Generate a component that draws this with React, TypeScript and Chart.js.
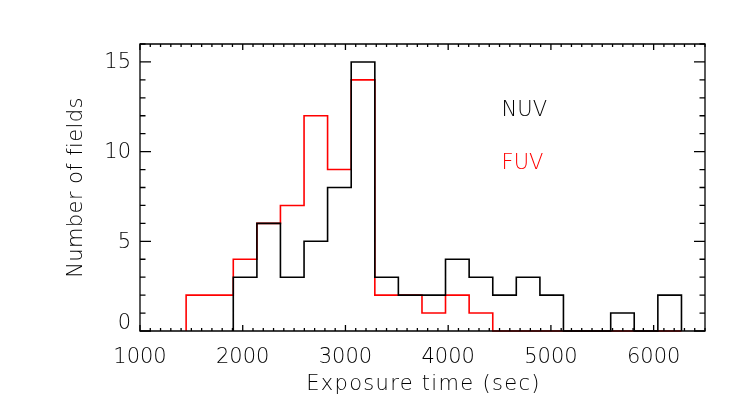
import React, { useEffect, useRef } from "react";
import { Chart, registerables } from "chart.js";

Chart.register(...registerables);

// Histogram bin edges (seconds) and counts per bin
const binEdges = [1449, 1678, 1908, 2138, 2367, 2597, 2826, 3056, 3286, 3515, 3745, 3974, 4204, 4434, 4663, 4893, 5122, 5352, 5582, 5811, 6041, 6271];
const nuvCounts = [0, 0, 3, 6, 3, 5, 8, 15, 3, 2, 2, 4, 3, 2, 3, 2, 0, 0, 1, 0, 2];
const fuvCounts = [2, 2, 4, 6, 7, 12, 9, 14, 2, 2, 1, 2, 1, 0, 0, 0, 0, 0, 0, 0, 0];

const xTickLabels = [1000, 2000, 3000, 4000, 5000, 6000];
const yTickLabels = [0, 5, 10, 15];
const xRange = [1000, 6500];
const yRange = [0, 16];
const xMinorStep = 100;
const yMinorStep = 1;

const xTitle = "Exposure time (sec)";
const yTitle = "Number of fields";
const legendItems = [
  { text: "NUV", color: "#000000" },
  { text: "FUV", color: "#ff0000" },
];

function stepPoints(edges: number[], counts: number[]) {
  let start = counts.findIndex((c) => c !== 0);
  if (start < 0) start = 0;
  const pts: { x: number; y: number }[] = [{ x: edges[start], y: 0 }];
  for (let i = start; i < counts.length; i++) {
    pts.push({ x: edges[i], y: counts[i] });
    pts.push({ x: edges[i + 1], y: counts[i] });
  }
  pts.push({ x: edges[counts.length], y: 0 });
  return pts;
}

const FONT = "200 21px 'DejaVu Sans', 'Liberation Sans', sans-serif";

const framePlugin = {
  id: "idlFrame",
  afterDatasetsDraw(chart: any) {
    const ctx = chart.ctx as any;
    const { left, right, top, bottom } = chart.chartArea;
    const xs = chart.scales.x;
    const ys = chart.scales.y;
    ctx.save();
    ctx.strokeStyle = "#000";
    ctx.lineWidth = 1.3;
    ctx.beginPath();
    ctx.rect(left, top, right - left, bottom - top);
    ctx.stroke();

    // x ticks (bottom + top)
    ctx.beginPath();
    for (let v = xRange[0]; v <= xRange[1] + 0.001; v += xMinorStep) {
      const px = xs.getPixelForValue(v);
      const major = Math.abs(v % 1000) < 0.001;
      const len = major ? 6 : 3;
      ctx.moveTo(px, bottom);
      ctx.lineTo(px, bottom - len);
      ctx.moveTo(px, top);
      ctx.lineTo(px, top + len);
    }
    // y ticks (left + right)
    for (let v = yRange[0]; v <= yRange[1] + 0.001; v += yMinorStep) {
      const py = ys.getPixelForValue(v);
      const major = Math.abs(v % 5) < 0.001;
      const len = major ? 11 : 5.5;
      ctx.moveTo(left, py);
      ctx.lineTo(left + len, py);
      ctx.moveTo(right, py);
      ctx.lineTo(right - len, py);
    }
    ctx.stroke();

    ctx.fillStyle = "#000";
    ctx.font = FONT;
    ctx.textAlign = "center";
    ctx.textBaseline = "middle";
    ctx.letterSpacing = "0px";
    for (const v of xTickLabels) {
      ctx.fillText(String(v), xs.getPixelForValue(v), bottom + 27);
    }
    ctx.textAlign = "right";
    for (const v of yTickLabels) {
      const py = Math.min(ys.getPixelForValue(v), bottom - 8);
      ctx.fillText(String(v), left - 9, py + 1);
    }

    ctx.textAlign = "center";
    ctx.letterSpacing = "1.3px";
    ctx.fillText(xTitle, (left + right) / 2 + 1, bottom + 54);
    ctx.save();
    ctx.letterSpacing = "0.4px";
    ctx.translate(left - 63, (top + bottom) / 2);
    ctx.rotate(-Math.PI / 2);
    ctx.fillText(yTitle, 0, 0);
    ctx.restore();

    ctx.letterSpacing = "0px";
    ctx.textAlign = "left";
    const lx = xs.getPixelForValue(4520);
    legendItems.forEach((item, i) => {
      ctx.fillStyle = item.color;
      ctx.fillText(item.text, lx, ys.getPixelForValue(12.3 - i * 2.95));
    });
    ctx.restore();
  },
};

export default function App() {
  const canvasRef = useRef<HTMLCanvasElement | null>(null);

  useEffect(() => {
    if (!canvasRef.current) return;
    const chart = new Chart(canvasRef.current, {
      type: "line",
      data: {
        datasets: [
          {
            label: "NUV",
            data: stepPoints(binEdges, nuvCounts),
            borderColor: "#000000",
            borderWidth: 1.6,
            pointRadius: 0,
            fill: false,
            tension: 0,
            clip: false as any,
            order: 0,
          },
          {
            label: "FUV",
            data: stepPoints(binEdges, fuvCounts),
            borderColor: "#ff0000",
            borderWidth: 1.6,
            pointRadius: 0,
            fill: false,
            tension: 0,
            clip: false as any,
            order: 1,
          },
        ],
      },
      options: {
        animation: false,
        responsive: false,
        maintainAspectRatio: false,
        layout: { padding: { left: 140, top: 44, right: 42, bottom: 89 } },
        scales: {
          x: { type: "linear", min: xRange[0], max: xRange[1], display: false },
          y: { type: "linear", min: yRange[0], max: yRange[1], display: false },
        },
        plugins: {
          legend: { display: false },
          tooltip: { enabled: false },
        },
      },
      plugins: [framePlugin],
    });
    return () => chart.destroy();
  }, []);

  return (
    <div style={{ position: "fixed", left: 0, top: 0, width: 747, height: 420, background: "#fff" }}>
      <canvas ref={canvasRef} width={747} height={420} style={{ width: 747, height: 420, display: "block" }} />
    </div>
  );
}
